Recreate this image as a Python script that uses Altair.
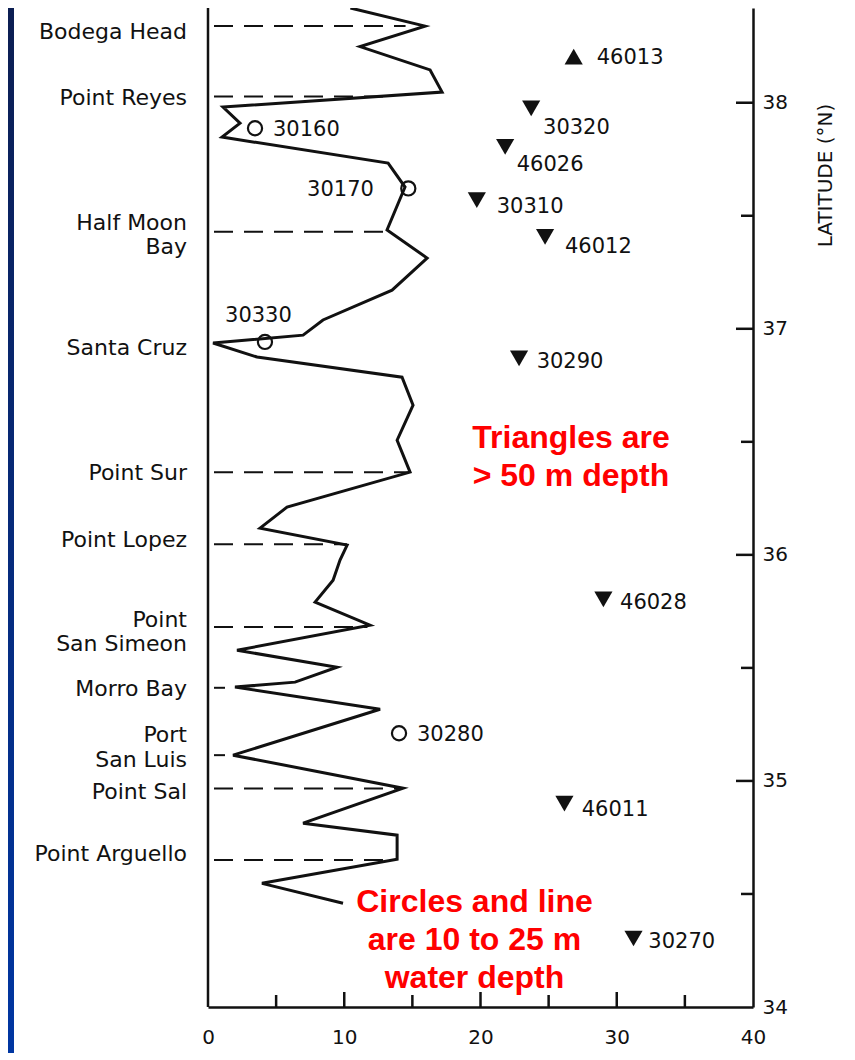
import altair as alt
import pandas as pd

# ---------------- data ----------------
# Solid line (10-25 m water depth): value along x, latitude along y
line_x = [10.45, 15.93, 11.16, 16.30, 17.18, 1.10, 2.35, 1.03, 13.22, 14.46,
          13.14, 16.08, 13.51, 8.44, 6.98, 0.37, 3.60, 14.24, 15.05, 13.88,
          14.83, 5.80, 3.82, 10.21, 9.69, 9.18, 7.86, 11.89, 2.13, 9.47,
          6.39, 1.98, 12.63, 1.84, 14.32, 6.98, 13.88, 13.88, 3.96, 9.91]
line_lat = [38.419, 38.339, 38.248, 38.145, 38.047, 37.981, 37.910, 37.848, 37.733, 37.627,
            37.437, 37.313, 37.171, 37.039, 36.972, 36.937, 36.875, 36.786, 36.662, 36.507,
            36.366, 36.211, 36.118, 36.043, 35.977, 35.888, 35.791, 35.689, 35.578, 35.503,
            35.437, 35.415, 35.317, 35.114, 34.968, 34.813, 34.760, 34.654, 34.547, 34.459]

# Circles (10-25 m depth stations)
circle_ids = ["30160", "30170", "30330", "30280"]
circle_x = [3.45, 14.70, 4.18, 14.02]
circle_lat = [37.887, 37.621, 36.942, 35.211]
circle_label_x = [4.77, 7.27, 1.25, 15.34]
circle_label_lat = [37.881, 37.614, 37.056, 35.202]

# Triangles (> 50 m depth stations)
tri_ids = ["46013", "30320", "46026", "30310", "46012", "30290", "46028", "46011", "30270"]
tri_x = [26.84, 23.72, 21.81, 19.73, 24.74, 22.83, 29.02, 26.16, 31.23]
tri_lat = [38.204, 37.975, 37.805, 37.569, 37.407, 36.869, 35.803, 34.900, 34.303]
tri_dir = ["triangle-up"] + ["triangle-down"] * 8
tri_label_x = [28.53, 24.59, 22.66, 21.19, 26.20, 24.12, 30.24, 27.43, 32.32]
tri_label_lat = [38.198, 37.887, 37.724, 37.540, 37.363, 36.854, 35.785, 34.873, 34.288]

# Coastal places (latitude of the first text line)
place_names = ["Bodega Head", "Point Reyes", "Half Moon\nBay", "Santa Cruz", "Point Sur",
               "Point Lopez", "Point\nSan Simeon", "Morro Bay", "Port\nSan Luis",
               "Point Sal", "Point Arguello"]
place_lat = [38.311, 38.021, 37.468, 36.915, 36.361, 36.065, 35.714, 35.406, 35.202,
             34.951, 34.676]
dash_lat = [38.339, 38.027, 37.429, 36.365, 36.047, 35.681, 35.412, 35.114, 34.967, 34.650]
dash_end = [14.5, 13.0, 13.1, 14.7, 10.2, 11.7, 1.25, 1.25, 14.1, 13.7]

# Axis ticks
x_labels = [0, 10, 20, 30, 40]
x_major = [10, 20, 30]
x_minor = [5, 15, 25, 35]
y_labels = [34, 35, 36, 37, 38]
y_major = [35, 36, 37, 38]
y_minor = [34.5, 35.5, 36.5, 37.5]

notes = ["Triangles are\n> 50 m depth", "Circles and line\nare 10 to 25 m\nwater depth"]
note_x = [26.64, 19.56]
note_lat = [36.515, 34.465]

# ---------------- chart ----------------
W, H = 545, 999
INK = "#111111"
FONT = "DejaVu Sans"

x_scale = alt.Scale(domain=[0, 40], nice=False, zero=False)
y_scale = alt.Scale(domain=[34, 38.419], nice=False, zero=False)

x_axis = alt.Axis(values=x_labels, ticks=False, grid=False, domainColor=INK, domainWidth=2.5,
                  labelFont=FONT, labelFontSize=20, labelColor=INK, labelPadding=20,
                  labelFlush=False, zindex=1)
y_axis = alt.Axis(orient="right", values=y_labels, format="d", ticks=False, grid=False,
                  domainColor=INK, domainWidth=2.5, labelFont=FONT, labelFontSize=20,
                  labelColor=INK, labelPadding=9, labelFlush=False, zindex=1,
                  title="LATITUDE (°N)", titleAngle=270, titleFont=FONT, titleFontSize=20,
                  titleFontWeight="normal", titleColor=INK, titleX=72, titleY=167,
                  titleAlign="center", titleBaseline="middle")

X = alt.X("x:Q", scale=x_scale, axis=x_axis, title=None)
Y = alt.Y("lat:Q", scale=y_scale, axis=y_axis)

line_df = pd.DataFrame({"x": line_x, "lat": line_lat, "i": list(range(len(line_x)))})
circ_df = pd.DataFrame({"x": circle_x, "lat": circle_lat})
circ_lab = pd.DataFrame({"x": circle_label_x, "lat": circle_label_lat, "t": circle_ids})
tri_df = pd.DataFrame({"x": tri_x, "lat": tri_lat, "s": tri_dir})
tri_lab = pd.DataFrame({"x": tri_label_x, "lat": tri_label_lat, "t": tri_ids})
place_df = pd.DataFrame({"lat": place_lat, "t": place_names})
dash_df = pd.DataFrame({"x": [0.0] * len(dash_lat), "x_end": dash_end, "lat": dash_lat})
note_df = pd.DataFrame({"x": note_x, "lat": note_lat, "t": notes})

one = pd.DataFrame({"k": [0]})

strip = alt.Chart(one).mark_rect(
    color={"gradient": "linear", "x1": 0, "x2": 0, "y1": 0, "y2": 1,
           "stops": [{"offset": 0, "color": "#0c1e52"}, {"offset": 1, "color": "#0036a2"}]}
).encode(x=alt.value(-200), x2=alt.value(-194), y=alt.value(0), y2=alt.value(1045))

dashes = alt.Chart(dash_df).mark_rule(color=INK, strokeWidth=2, strokeDash=[19, 11],
                                      strokeDashOffset=24).encode(
    x=X, x2="x_end:Q", y=Y)

wave = alt.Chart(line_df).mark_line(color=INK, strokeWidth=3, strokeJoin="miter").encode(
    x=X, y=Y, order="i:Q")

xt_major = alt.Chart(pd.DataFrame({"x": x_major})).mark_rule(color=INK, strokeWidth=2.5).encode(
    x=X, y=alt.value(H), y2=alt.value(H - 15))
xt_minor = alt.Chart(pd.DataFrame({"x": x_minor})).mark_rule(color=INK, strokeWidth=2.5).encode(
    x=X, y=alt.value(H), y2=alt.value(H - 12))
yt_major = alt.Chart(pd.DataFrame({"lat": y_major})).mark_rule(color=INK, strokeWidth=2.5).encode(
    y=Y, x=alt.value(W), x2=alt.value(W - 17))
yt_minor = alt.Chart(pd.DataFrame({"lat": y_minor})).mark_rule(color=INK, strokeWidth=2.5).encode(
    y=Y, x=alt.value(W), x2=alt.value(W - 12))

left_line = alt.Chart(one).mark_rule(color=INK, strokeWidth=2.5).encode(
    x=alt.value(0), y=alt.value(0), y2=alt.value(H))

circles = alt.Chart(circ_df).mark_point(shape="circle", filled=False, color=INK, size=200,
                                        strokeWidth=2.2, opacity=1).encode(x=X, y=Y)
triangles = alt.Chart(tri_df).mark_point(filled=True, color=INK, size=330, opacity=1).encode(
    x=X, y=Y, shape=alt.Shape("s:N", scale=None))

lab_style = dict(font=FONT, fontSize=21, color=INK, align="left", baseline="middle")
circ_text = alt.Chart(circ_lab).mark_text(**lab_style).encode(x=X, y=Y, text="t:N")
tri_text = alt.Chart(tri_lab).mark_text(**lab_style).encode(x=X, y=Y, text="t:N")

places = alt.Chart(place_df).mark_text(font=FONT, fontSize=22, color=INK, align="right",
                                       baseline="middle", lineBreak="\n", lineHeight=24.5).encode(
    x=alt.value(-21), y=Y, text="t:N")

note_text = alt.Chart(note_df).mark_text(font="Liberation Sans", fontWeight="bold", fontSize=32,
                                         color="#ff0000", align="center", baseline="middle",
                                         lineBreak="\n", lineHeight=38).encode(
    x=X, y=Y, text="t:N")

chart = alt.layer(
    strip, dashes, wave, xt_major, xt_minor, yt_major, yt_minor, left_line,
    circles, triangles, circ_text, tri_text, places, note_text
).properties(
    width=W, height=H,
    padding={"left": 200, "top": 0, "right": 90, "bottom": 46},
    autosize=alt.AutoSizeParams(type="none"),
    background="white",
).configure_view(stroke=None)

chart.save("out.html", embed_options={"renderer": "svg", "actions": False})
